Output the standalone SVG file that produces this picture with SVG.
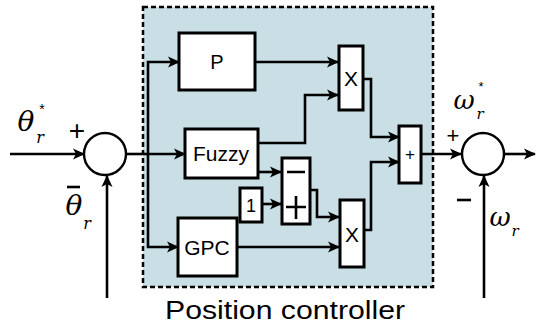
<svg xmlns="http://www.w3.org/2000/svg" width="536" height="329" viewBox="0 0 536 329">
<defs>
<marker id="ah" markerWidth="12" markerHeight="12" refX="11" refY="6" orient="auto" markerUnits="userSpaceOnUse" viewBox="0 0 12 12">
<path d="M0,0.5 L12,6 L0,11.5 L3,6 Z" fill="#000"/>
</marker>
<style>
.blk{fill:#fff;stroke:#000;stroke-width:3}
.sum{fill:#fff;stroke:#000;stroke-width:2.4}
.ln{fill:none;stroke:#000;stroke-width:2.6}
.arr{fill:none;stroke:#000;stroke-width:2.6;marker-end:url(#ah)}
.t{font-family:"Liberation Sans",Arial,sans-serif;fill:#000;text-anchor:middle}
.m{font-family:"DejaVu Serif","Liberation Serif",serif;font-style:italic;fill:#000;text-anchor:middle}
</style>
</defs>
<rect id="controller-frame" x="143" y="7" width="290" height="280" fill="#c9dfe5" stroke="#000" stroke-width="2.5" stroke-dasharray="5,3"/>
<g id="connectors">
<path class="arr" d="M10,154 H84"/>
<path class="arr" d="M107,298 V176"/>
<path class="ln" d="M126,154 H148"/>
<path class="arr" d="M148,154 H185"/>
<path class="arr" d="M148,154 V62 H179"/>
<path class="arr" d="M148,154 V247 H178"/>
<path class="arr" d="M255,62 H338"/>
<path class="arr" d="M258,143 H305 V95 H338"/>
<path class="arr" d="M258,172 H281"/>
<path class="arr" d="M262,204 H281"/>
<path class="arr" d="M310,190 H317 V217 H339"/>
<path class="arr" d="M237,247 H339"/>
<path class="arr" d="M363,79 H371 V137 H399"/>
<path class="arr" d="M364,230 H371 V162 H399"/>
<path class="arr" d="M421,154 H461"/>
<path class="arr" d="M484,298 V176"/>
<path class="arr" d="M504,154 H535"/>
</g>
<g id="sum1"><circle class="sum" cx="105" cy="154" r="21"/></g>
<g id="sum2"><circle class="sum" cx="483" cy="154" r="21"/></g>
<g id="P"><rect class="blk" x="179" y="33" width="76" height="57"/><text class="t" x="217" y="69" font-size="20">P</text></g>
<g id="Fuzzy"><rect class="blk" x="185" y="129" width="73" height="49"/><text class="t" x="221" y="161" font-size="21">Fuzzy</text></g>
<g id="GPC"><rect class="blk" x="178" y="218" width="59" height="58"/><text class="t" x="207" y="255" font-size="21">GPC</text></g>
<g id="X1"><rect class="blk" x="339" y="46" width="24" height="64"/><text class="t" x="351" y="86" font-size="21">X</text></g>
<g id="X2"><rect class="blk" x="340" y="200" width="24" height="67"/><text class="t" x="352" y="242" font-size="21">X</text></g>
<g id="one"><rect class="blk" x="240" y="188" width="22" height="34"/><text class="t" x="251" y="212" font-size="18">1</text></g>
<g id="minusplus"><rect class="blk" x="282" y="158" width="28" height="66"/>
<path class="ln" d="M287,172 H305 M286,207 H306 M296,196 V219" stroke-width="2.8"/></g>
<g id="plus"><rect class="blk" x="399" y="126" width="22" height="57"/><text class="t" x="410" y="160" font-size="17">+</text></g>
<g id="labels">
<text class="m" x="26" y="131" font-size="28">θ</text>
<text class="m" x="40" y="143" font-size="16">r</text>
<text class="t" x="42" y="114" font-size="14">*</text>
<text class="t" x="77" y="140" font-size="28">+</text>
<text class="m" x="74" y="215" font-size="28">θ</text>
<path class="ln" d="M67,187 H80"/>
<text class="m" x="87" y="229" font-size="16">r</text>
<text class="m" x="464" y="109" font-size="26">ω</text>
<text class="m" x="480" y="119" font-size="15">r</text>
<text class="t" x="481" y="91" font-size="13">*</text>
<text class="t" x="453" y="143" font-size="22">+</text>
<path class="ln" d="M457,200 H471" stroke-width="2.6"/>
<text class="m" x="500" y="226" font-size="26">ω</text>
<text class="m" x="515" y="236" font-size="15">r</text>
<text class="t" x="285" y="319" font-size="26" textLength="240" lengthAdjust="spacingAndGlyphs">Position controller</text>
</g>
</svg>
